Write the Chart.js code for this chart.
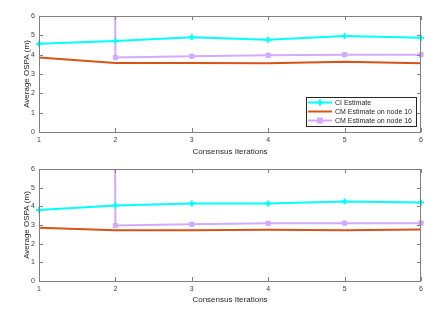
<!DOCTYPE html>
<html>
<head>
<meta charset="utf-8">
<script src="https://cdn.jsdelivr.net/npm/chart.js@4"></script>
<style>
  html, body { margin: 0; padding: 0; background: #fff; }
  #wrap { position: relative; width: 443px; height: 319px; }
  canvas { position: absolute; left: 0; }
</style>
</head>
<body>
<div id="wrap">
  <canvas id="cTop" width="443" height="160" style="top:0"></canvas>
  <canvas id="cBot" width="443" height="159" style="top:160px"></canvas>
</div>
<script>
// ── DATA ──
const iters = [1, 2, 3, 4, 5, 6];
const yTicks = [0, 1, 2, 3, 4, 5, 6];
const names = ['CI Estimate', 'CM Estimate on node 10', 'CM Estimate on node 16'];

// top panel
const ciTop   = [4.57, 4.71, 4.90, 4.77, 4.96, 4.88];
const cm10Top = [3.85, 3.57, 3.57, 3.56, 3.64, 3.56];
const cm16Top = [1000, 3.85, 3.92, 3.97, 4.00, 4.00]; // first value far off the axis

// bottom panel
const ciBot   = [3.81, 4.04, 4.15, 4.15, 4.26, 4.20];
const cm10Bot = [2.85, 2.72, 2.72, 2.74, 2.72, 2.76];
const cm16Bot = [1000, 2.97, 3.04, 3.09, 3.10, 3.10];

const cCyan = '#00ffff', cOrange = '#d95319', cLav = '#d2aaff';
const font = 'Liberation Sans, Arial, Helvetica, sans-serif';
const txt = '#404040', axc = '#808080';

const xy = vals => vals.map((v, i) => ({ x: iters[i], y: v }));

function sets(ci, cm10, cm16) {
  return [
    { label: names[0], data: xy(ci), borderColor: cCyan, backgroundColor: cCyan, borderWidth: 2,
      pointStyle: 'cross', pointRadius: 3, pointBorderWidth: 2, clip: 6, tension: 0 },
    { label: names[1], data: xy(cm10), borderColor: cOrange, borderWidth: 2, pointRadius: 0, clip: 6 },
    { label: names[2], data: xy(cm16), borderColor: cLav, backgroundColor: cLav, borderWidth: 2,
      pointStyle: 'rect', pointRadius: 3, pointBorderWidth: 1,
      clip: { left: 6, right: 6, top: 0, bottom: 6 } }
  ];
}

// ── PLUGINS ──
const frame = {
  id: 'frame',
  afterDatasetsDraw(chart) {
    const { ctx, chartArea: a, scales: { x, y } } = chart;
    ctx.save();
    ctx.strokeStyle = axc;
    ctx.lineWidth = 1;
    ctx.strokeRect(a.left + 0.5, a.top + 0.5, a.right - a.left - 1, a.bottom - a.top);
    ctx.beginPath();
    x.ticks.forEach(t => {
      const p = Math.round(x.getPixelForValue(t.value)) + 0.5;
      ctx.moveTo(p, a.bottom); ctx.lineTo(p, a.bottom - 4);
      ctx.moveTo(p, a.top); ctx.lineTo(p, a.top + 4);
    });
    y.ticks.forEach(t => {
      const p = Math.round(y.getPixelForValue(t.value)) + 0.5;
      ctx.moveTo(a.left, p); ctx.lineTo(a.left + 4, p);
      ctx.moveTo(a.right, p); ctx.lineTo(a.right - 4, p);
    });
    ctx.stroke();
    ctx.restore();
  }
};

const boxLegend = {
  id: 'boxLegend',
  afterDraw(chart) {
    if (!chart.options.plugins.boxLegend.show) return;
    const { ctx, chartArea: a } = chart;
    const ds = chart.data.datasets;
    ctx.save();
    ctx.font = '7px ' + font;
    const tw = Math.max(...ds.map(d => ctx.measureText(d.label).width));
    const w = 29 + tw + 4, h = 29;
    const r = a.right - 5, b = a.bottom - 6;
    const l = r - w, t = b - h;
    ctx.fillStyle = '#fff';
    ctx.fillRect(l, t, w, h);
    ctx.strokeStyle = '#262626';
    ctx.lineWidth = 1;
    ctx.strokeRect(Math.round(l) + 0.5, Math.round(t) + 0.5, Math.round(w), Math.round(h));
    ds.forEach((d, i) => {
      const yy = t + 5.5 + i * 9;
      ctx.strokeStyle = d.borderColor;
      ctx.lineWidth = 2;
      ctx.beginPath(); ctx.moveTo(l + 2, yy); ctx.lineTo(l + 26, yy); ctx.stroke();
      if (d.pointRadius) {
        ctx.fillStyle = d.backgroundColor;
        if (d.pointStyle === 'rect') ctx.fillRect(l + 11, yy - 3, 6, 6);
        else { ctx.beginPath(); ctx.moveTo(l + 14, yy - 3); ctx.lineTo(l + 14, yy + 3); ctx.moveTo(l + 11, yy); ctx.lineTo(l + 17, yy); ctx.stroke(); }
      }
      ctx.fillStyle = '#262626';
      ctx.textBaseline = 'middle';
      ctx.fillText(d.label, l + 29, yy + 0.5);
    });
    ctx.restore();
  }
};

// ── CHARTS ──
function makeChart(id, datasets, padTop, xHeight, xTitlePad, legend) {
  return new Chart(document.getElementById(id), {
    type: 'line',
    data: { datasets },
    options: {
      responsive: false,
      animation: false,
      layout: { padding: { top: padTop, right: 22, left: 0, bottom: 0 } },
      plugins: { legend: { display: false }, tooltip: { enabled: false }, boxLegend: { show: legend } },
      scales: {
        x: {
          type: 'linear', min: 1, max: 6,
          afterBuildTicks: s => { s.ticks = iters.map(v => ({ value: v })); },
          afterFit: s => { s.height = xHeight; },
          grid: { display: false, drawTicks: false },
          border: { display: false },
          ticks: { color: txt, font: { family: font, size: 7 }, padding: 4, maxRotation: 0 },
          title: { display: true, text: 'Consensus Iterations', color: '#262626',
                   font: { family: font, size: 8 }, padding: { top: 0, bottom: xTitlePad } }
        },
        y: {
          min: 0, max: 6,
          afterBuildTicks: s => { s.ticks = yTicks.map(v => ({ value: v })); },
          afterFit: s => { s.width = 39; },
          grid: { display: false, drawTicks: false },
          border: { display: false },
          ticks: { color: txt, font: { family: font, size: 7 }, padding: 4 },
          title: { display: true, text: 'Average OSPA (m)', color: '#262626',
                   font: { family: font, size: 8 }, padding: { top: 22, bottom: 0 } }
        }
      }
    },
    plugins: [frame, boxLegend]
  });
}

makeChart('cTop', sets(ciTop, cm10Top, cm16Top), 16, 28, 3, true);
makeChart('cBot', sets(ciBot, cm10Bot, cm16Bot), 9, 38, 14, false);
</script>
</body>
</html>
